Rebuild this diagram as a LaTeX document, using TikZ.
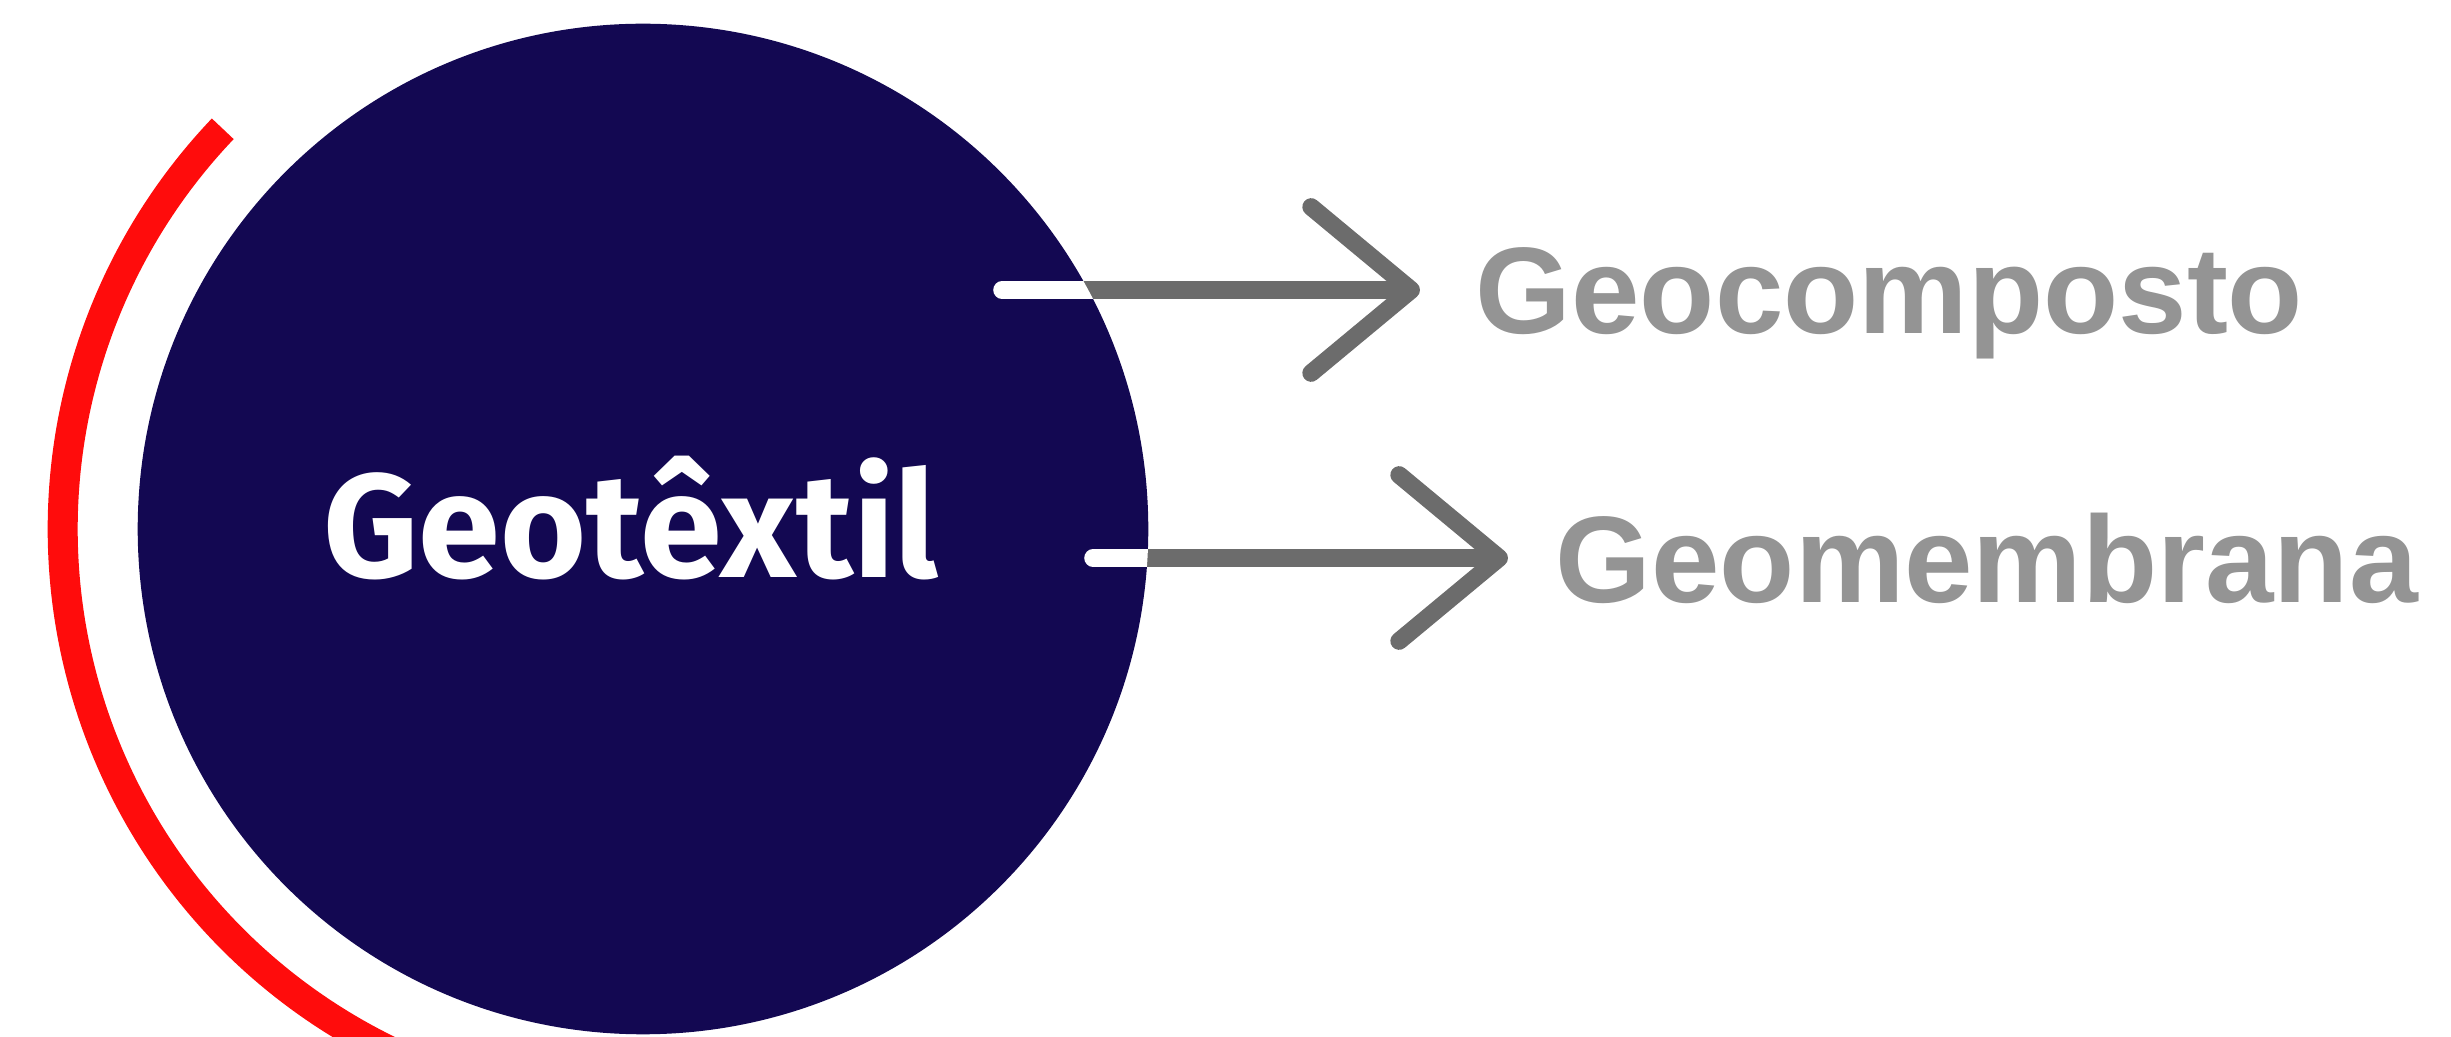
\documentclass[tikz,border=0pt]{standalone}
\usepackage{fontspec}
\setmainfont{Liberation Sans}
\newfontfamily\titlefont{Fira Sans}
\usepackage{tikz}
\usetikzlibrary{arrows.meta,positioning}
\definecolor{navy}{RGB}{19,8,82}
\definecolor{arrowgray}{RGB}{108,108,108}
\definecolor{ringred}{RGB}{255,12,12}

\begin{document}
\begin{tikzpicture}
[
x=0.01cm, y=0.01cm,
core/.style={circle, fill=navy, minimum size=10.1cm, inner sep=0pt},
title/.style={anchor=base, text=white, inner sep=0pt, font=\fontsize{42}{50}\selectfont\titlefont\bfseries},
item/.style={anchor=base west, inner sep=0pt, font=\fontsize{35}{42}\selectfont\bfseries},
veil/.style={fill=white, fill opacity=0.58},
link/.style={draw=arrowgray, line width=5pt, -{Straight Barb[length=1cm,width=1.66cm,round]}},
ring/.style={draw=ringred, line width=0.3cm}
]
\useasboundingbox (0,0) rectangle (2451,-1037);

%Nodes
\node[item]         (comp)      at (1475,-334)  {Geocomposto};
\node[item]         (memb)      at (1555,-603)  {Geomembrana};
\fill[veil] (comp.south west) rectangle (comp.north east);
\fill[veil] (memb.south west) rectangle (memb.north east);
\node[core]         (core)      at (643,-529)   {};
\node[title]        (name)      at (631,-578)   {Geotêxtil};
\coordinate         (s1)        at (1002,-290);
\coordinate         (s2)        at (1093,-558);

%Ring
\draw[ring] (core.center) ++(136.4:5.8cm) arc[start angle=136.4, end angle=246, radius=5.8cm];

%Lines
\draw[link, shorten >=0.55cm] (s1) -- (s1 -| comp.west);
\draw[link, shorten >=0.47cm] (s2) -- (s2 -| memb.west);
\begin{scope}
\clip (core.center) circle (5.05cm);
\draw[white, line width=5pt, line cap=round] (s1) -- (s1 -| comp.west);
\draw[white, line width=5pt, line cap=round] (s2) -- (s2 -| memb.west);
\end{scope}
\end{tikzpicture}
\end{document}
